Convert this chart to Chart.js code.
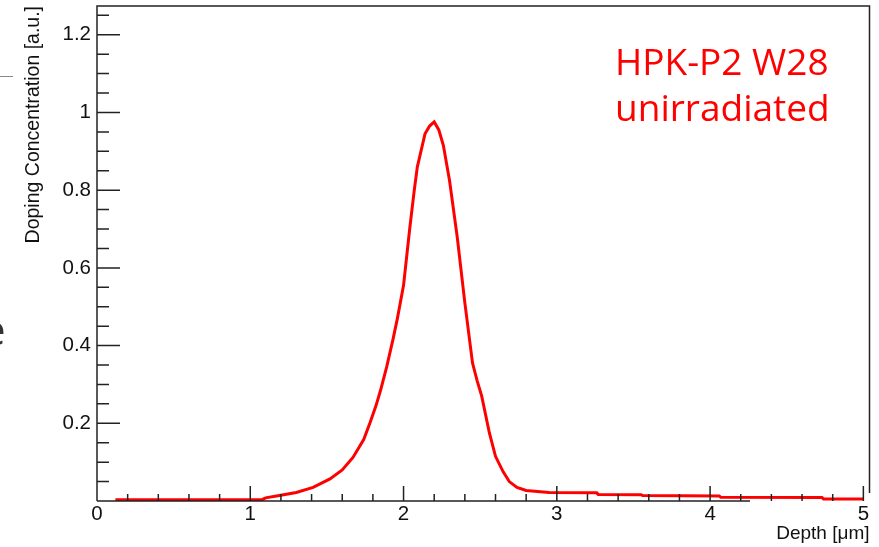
<!DOCTYPE html>
<html>
<head>
<meta charset="utf-8">
<script src="https://cdn.jsdelivr.net/npm/chart.js@4"></script>
<style>
  html, body { margin: 0; padding: 0; background: #fff; }
  #wrap { width: 879px; height: 547px; position: relative; }
</style>
</head>
<body>
<div id="wrap"><canvas id="profile" width="879" height="547"></canvas></div>
<script>
// depth in um, doping in a.u.
const depth = [0.12, 0.80, 1.08, 1.10, 1.19, 1.30, 1.41, 1.52, 1.60, 1.67, 1.74, 1.78, 1.82, 1.85, 1.89, 1.93, 1.96, 2.00, 2.04, 2.07, 2.09, 2.14, 2.17, 2.20, 2.23, 2.26, 2.30, 2.35, 2.40, 2.45, 2.48, 2.51, 2.56, 2.60, 2.65, 2.69, 2.74, 2.80, 2.95, 3.26, 3.27, 3.55, 3.56, 4.06, 4.07, 4.73, 4.74, 5.00];
const doping = [0.003, 0.003, 0.004, 0.008, 0.014, 0.022, 0.035, 0.057, 0.080, 0.112, 0.158, 0.200, 0.245, 0.285, 0.345, 0.414, 0.470, 0.555, 0.700, 0.800, 0.860, 0.945, 0.965, 0.976, 0.955, 0.915, 0.825, 0.680, 0.510, 0.355, 0.310, 0.270, 0.175, 0.115, 0.075, 0.050, 0.035, 0.027, 0.022, 0.021, 0.017, 0.016, 0.014, 0.013, 0.0095, 0.009, 0.005, 0.005];
const xTicks = [0, 1, 2, 3, 4, 5];
const yTicks = [0.2, 0.4, 0.6, 0.8, 1, 1.2];

const points = depth.map((d, i) => ({ x: d, y: doping[i] }));
const font = "'Liberation Sans', Arial, sans-serif";

// ROOT style frame with inward ticks
const framePlugin = {
  id: "frame",
  afterDatasetsDraw(chart) {
    const c = chart.ctx;
    const xs = chart.scales.x, ys = chart.scales.y;
    const a = chart.chartArea;
    c.save();
    c.strokeStyle = "#222";
    c.lineWidth = 1.5;
    c.beginPath();
    // left + top + right
    c.moveTo(a.left, a.bottom);
    c.lineTo(a.left, a.top);
    c.lineTo(a.right, a.top);
    c.lineTo(a.right, a.bottom - 8);
    // bottom (covered on the right in the picture)
    c.moveTo(a.left, a.bottom);
    c.lineTo(750, a.bottom);
    for (let v = 0; v <= 1.2501; v += 0.05) {
      const py = ys.getPixelForValue(v);
      const major = Math.abs(v / 0.2 - Math.round(v / 0.2)) < 1e-6;
      c.moveTo(a.left, py);
      c.lineTo(a.left + (major ? 23 : 12), py);
    }
    for (let v = 0.2; v <= 5.0001; v += 0.2) {
      const px = xs.getPixelForValue(v);
      const major = Math.abs(v - Math.round(v)) < 1e-6;
      c.moveTo(px, a.bottom);
      c.lineTo(px, a.bottom - (major ? 15 : 7));
    }
    c.stroke();
    c.restore();
  },
  afterDraw(chart) {
    const c = chart.ctx;
    c.save();
    // label box
    c.fillStyle = "#ff0000";
    c.font = "37px 'Open Sans', sans-serif";
    c.textBaseline = "alphabetic";
    c.fillText("HPK-P2 W28", 615, 75);
    c.fillText("unirradiated", 615, 121);
    // bits of the slide behind the plot
    c.fillStyle = "#333";
    c.font = "42px 'Open Sans', sans-serif";
    c.fillText("e", -18, 345);
    c.strokeStyle = "#888";
    c.lineWidth = 1;
    c.beginPath();
    c.moveTo(0, 76.5);
    c.lineTo(13, 76.5);
    c.stroke();
    c.restore();
  }
};

new Chart(document.getElementById("profile"), {
  type: "line",
  data: {
    datasets: [{
      label: "Doping",
      data: points,
      borderColor: "#ff0000",
      borderWidth: 3,
      pointRadius: 0,
      tension: 0,
      fill: false
    }]
  },
  options: {
    responsive: false,
    animation: false,
    devicePixelRatio: 1,
    layout: { padding: { top: 6, right: 9.5, left: 0, bottom: 0 } },
    plugins: { legend: { display: false }, tooltip: { enabled: false } },
    scales: {
      x: {
        type: "linear",
        min: 0,
        max: 5.04,
        afterFit(s) { s.height = 46; s.paddingLeft = 0; s.paddingRight = 0; },
        afterBuildTicks(s) { s.ticks = xTicks.map(v => ({ value: v })); },
        grid: { display: false, drawTicks: false },
        border: { display: false },
        ticks: { color: "#111", font: { family: font, size: 20.5 }, padding: 1, maxRotation: 0, autoSkip: false },
        title: { display: true, text: "Depth [\u03bcm]", align: "end", color: "#111", font: { family: font, size: 19 }, padding: { top: 0, bottom: 2 } }
      },
      y: {
        min: 0,
        max: 1.274,
        afterFit(s) { s.width = 97; s.paddingTop = 0; s.paddingBottom = 0; },
        afterBuildTicks(s) { s.ticks = yTicks.map(v => ({ value: v })); },
        grid: { display: false, drawTicks: false },
        border: { display: false },
        ticks: { color: "#111", font: { family: font, size: 20.5 }, padding: 6, autoSkip: false, callback: v => String(v) },
        title: { display: true, text: "Doping Concentration [a.u.]", align: "end", color: "#111", font: { family: font, size: 19.5 }, padding: { top: 22, bottom: 0 } }
      }
    }
  },
  plugins: [framePlugin]
});
</script>
</body>
</html>
